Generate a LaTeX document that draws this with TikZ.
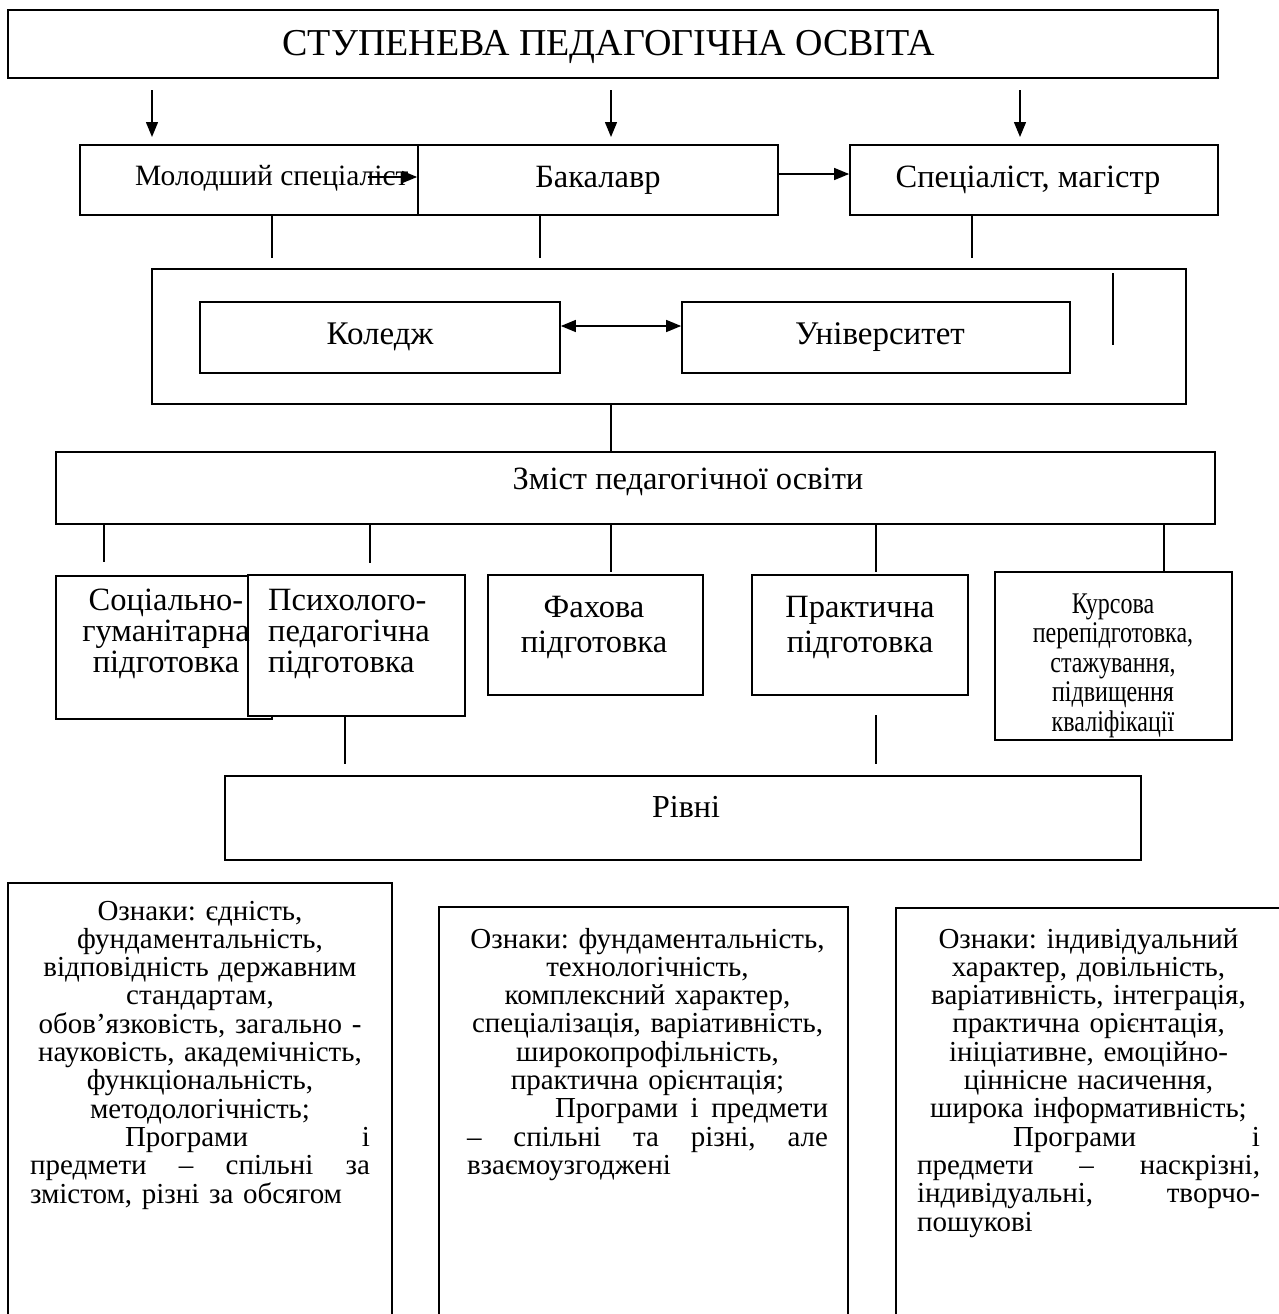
\documentclass[tikz,border=0pt]{standalone}
\usepackage{fontspec}
\setmainfont{Liberation Serif}
\newfontfamily\kursfont[FakeStretch=0.8]{Liberation Serif}
\usetikzlibrary{arrows.meta}
\newcommand{\jline}[2]{\makebox[#1][s]{#2}}
\frenchspacing
\begin{document}
\begin{tikzpicture}[x=1pt,y=-1pt,
  box/.style={draw,line width=1.7pt,inner sep=0pt,fill=white},
  thickbox/.style={box,line width=2.4pt},
  conn/.style={line width=1.4pt},
  arr/.style={conn,-{Triangle[length=15pt,width=12pt]}},
  darr/.style={conn,{Triangle[length=15pt,width=12pt]}-{Triangle[length=15pt,width=12pt]}},
  lbl/.style={inner sep=0pt,anchor=base},
  fbig/.style={font=\fontsize{38}{42}\selectfont},
  fmid/.style={font=\fontsize{32.5}{31}\selectfont},
  fsml/.style={font=\fontsize{29}{28.3}\selectfont},
]
\useasboundingbox (0,0) rectangle (1279,1314);

% ---- top
\node[box,minimum width=1210pt,minimum height=68pt] (top) at (613,44) {};
\node[lbl,fbig] (ttop) at (609,56) {СТУПЕНЕВА ПЕДАГОГІЧНА ОСВІТА};

\coordinate (a1s) at (152,90); \coordinate (a1e) at (152,137);
\coordinate (a2s) at (611,90); \coordinate (a2e) at (611,137);
\coordinate (a3s) at (1020,90); \coordinate (a3e) at (1020,137);
\draw[arr] (a1s) -- (a1e);
\draw[arr] (a2s) -- (a2e);
\draw[arr] (a3s) -- (a3e);

% ---- levels
\node[box,minimum width=386pt,minimum height=70pt] (mol) at (273,180) {};
\node[lbl,anchor=base west,font=\fontsize{29.5}{31}\selectfont] (tmol) at (135,185) {Молодший спеціаліст};
\coordinate (molarr) at (368,177);
\node[box,minimum width=360pt,minimum height=70pt] (bak) at (598,180) {};
\draw[arr] (molarr) -- (molarr -| bak.west);
\node[lbl,fmid] (tbak) at (598,187) {Бакалавр};
\node[box,minimum width=368pt,minimum height=70pt] (spec) at (1034,180) {};
\node[lbl,fmid] (tspec) at (1028,187) {Спеціаліст, магістр};
\coordinate (bs) at (778,174);
\draw[arr] (bs) -- (bs -| spec.west);

\coordinate (v1) at (272,258);
\coordinate (v2) at (540,258);
\coordinate (v3) at (972,258);
\draw[conn] (mol.south -| v1) -- (v1);
\draw[conn] (bak.south -| v2) -- (v2);
\draw[conn] (spec.south -| v3) -- (v3);

% ---- institutions
\node[box,minimum width=1034pt,minimum height=135pt] (cont) at (669,336.5) {};
\coordinate (il1) at (1113,273); \coordinate (il2) at (1113,345);
\draw[conn] (il1) -- (il2);
\node[box,minimum width=360pt,minimum height=71pt] (kol) at (380,337.5) {};
\node[lbl,font=\fontsize{33}{35}\selectfont] (tkol) at (380,344) {Коледж};
\node[box,minimum width=388pt,minimum height=71pt] (univ) at (876,337.5) {};
\node[lbl,font=\fontsize{33}{35}\selectfont] (tuniv) at (880,344) {Університет};
\coordinate (dy) at (0,326);
\draw[darr] (kol.east |- dy) -- (univ.west |- dy);

% ---- content
\node[box,minimum width=1159pt,minimum height=72pt] (zm) at (635.5,488) {};
\node[lbl,fmid] (tzm) at (688,489) {Зміст педагогічної освіти};
\coordinate (cz) at (611,0);
\draw[conn] (cont.south -| cz) -- (zm.north -| cz);

\coordinate (z1) at (104,562);
\coordinate (z2) at (370,563);
\coordinate (z3) at (611,572);
\coordinate (z4) at (876,572);
\coordinate (z5) at (1164,571);
\foreach \c in {z1,z2,z3,z4,z5} \draw[conn] (zm.south -| \c) -- (\c);

\node[box,fill=none,minimum width=216pt,minimum height=143pt] (soc) at (164,647.5) {};
\node[box,minimum width=217pt,minimum height=141pt] (psy) at (356.5,645.5) {};
\node[lbl,fmid,align=center] (tsoc) at (166,672) {Соціально-\\гуманітарна\\підготовка};
\node[lbl,fmid,align=left,anchor=base west] (tpsy) at (268,672) {Психолого-\\педагогічна\\підготовка};
\node[box,minimum width=215pt,minimum height=120pt] (fah) at (595.5,635) {};
\node[lbl,font=\fontsize{32.5}{35}\selectfont,align=center] (tfah) at (594,652) {Фахова\\підготовка};
\node[box,minimum width=216pt,minimum height=120pt] (prak) at (860,635) {};
\node[lbl,font=\fontsize{32.5}{35}\selectfont,align=center] (tprak) at (860,652) {Практична\\підготовка};
\node[thickbox,minimum width=237pt,minimum height=168pt] (kurs) at (1113.5,656) {};
\node[lbl,font=\kursfont\fontsize{30}{29.5}\selectfont,align=center] (tkurs) at (1113,731) {Курсова\\перепідготовка,\\стажування,\\підвищення\\кваліфікації};

% ---- levels box
\node[box,minimum width=916pt,minimum height=84pt] (riv) at (683,818) {};
\node[lbl,font=\fontsize{32}{34}\selectfont] (triv) at (686,817) {Рівні};
\coordinate (r1) at (345,764);
\draw[conn] (psy.south -| r1) -- (r1);
\coordinate (r2s) at (876,715); \coordinate (r2e) at (876,764);
\draw[conn] (r2s) -- (r2e);

% ---- bottom boxes (open at the bottom)
\draw[line width=2pt] (8,1314) |- (392,883) -- (392,1314);
\draw[line width=2pt] (439,1314) |- (848,907) -- (848,1314);
\draw[line width=2pt] (896,1314) |- (1290,908);

\node[lbl,fsml,text width=340pt,align=center] (tb1) at (200,920) {%
Ознаки: єдність,\\
фундаментальність,\\
відповідність державним\\
стандартам,\\
обов’язковість, загально -\\
науковість, академічність,\\
функціональність,\\
методологічність;\\
\jline{340pt}{\hspace{95pt}Програми \hfill і}\\
\jline{340pt}{предмети \hfill – \hfill спільні \hfill за}\\
\jline{340pt}{змістом, різні за обсягом\hfill}};

\node[lbl,fsml,text width=361pt,align=center] (tb2) at (647.5,948) {%
Ознаки: фундаментальність,\\
технологічність,\\
комплексний характер,\\
спеціалізація, варіативність,\\
широкопрофільність,\\
практична орієнтація;\\
\jline{361pt}{\hspace{88pt}Програми \hfill і \hfill предмети}\\
\jline{361pt}{– \hfill спільні \hfill та \hfill різні, \hfill але}\\
\jline{361pt}{взаємоузгоджені\hfill}};

\node[lbl,fsml,text width=343pt,align=center] (tb3) at (1088.5,948) {%
Ознаки: індивідуальний\\
характер, довільність,\\
варіативність, інтеграція,\\
практична орієнтація,\\
ініціативне, емоційно-\\
ціннісне насичення,\\
широка інформативність;\\
\jline{343pt}{\hspace{96pt}Програми \hfill і}\\
\jline{343pt}{предмети \hfill – \hfill наскрізні,}\\
\jline{343pt}{індивідуальні, \hfill творчо-}\\
\jline{343pt}{пошукові\hfill}};
\end{tikzpicture}
\end{document}
